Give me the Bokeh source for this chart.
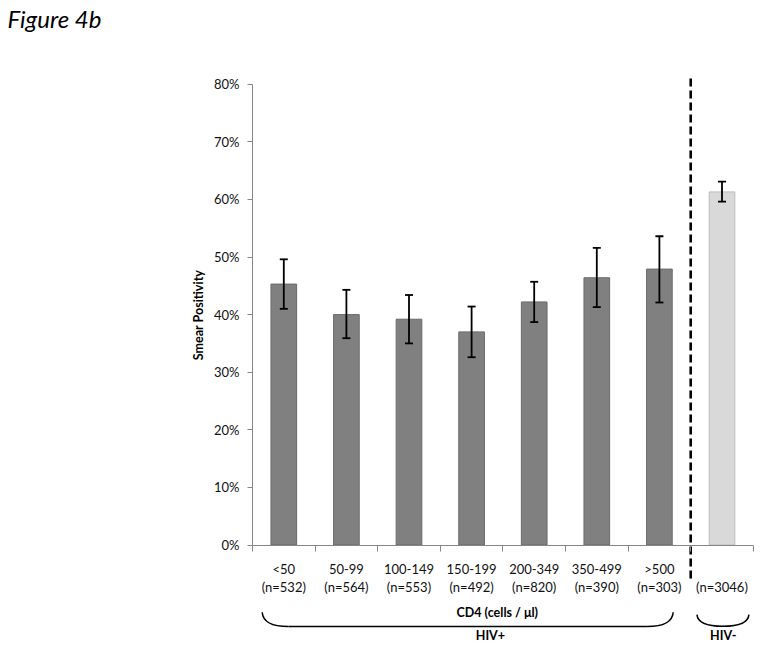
from bokeh.plotting import figure
from bokeh.models import (LinearAxis, FixedTicker, NumeralTickFormatter, Range1d,
                          ColumnDataSource, Whisker, TeeHead)
from bokeh.core.properties import value
from bokeh.embed import file_html
from bokeh.resources import INLINE

# ---------------- data ----------------
cd4_groups = ["<50", "50-99", "100-149", "150-199", "200-349", "350-499", ">500"]
cd4_n = [532, 564, 553, 492, 820, 390, 303]
hivpos_smear = [0.453, 0.400, 0.392, 0.370, 0.422, 0.464, 0.479]
hivpos_upper = [0.496, 0.443, 0.434, 0.414, 0.457, 0.516, 0.536]
hivpos_lower = [0.410, 0.359, 0.350, 0.326, 0.387, 0.413, 0.421]

hivneg_n = [3046]
hivneg_smear = [0.613]
hivneg_upper = [0.631]
hivneg_lower = [0.596]

y_ticks = [0.0, 0.1, 0.2, 0.3, 0.4, 0.5, 0.6, 0.7, 0.8]
group_labels = ["HIV+", "HIV-"]
cd4_title = "CD4 (cells / \u03bcl)"

# ---------------- layout constants ----------------
FONT = "Lato"
W, H = 756, 644
TITLE_H = 33                 # space taken by the title panel (px)
X0_PAGE, PX_PER_CAT = 252.0, 62.6
Y0_PAGE, PX_PER_UNIT = 544.5, 576.0

n_pos = len(cd4_groups)
n_all = n_pos + len(hivneg_n)

xs = (0 - X0_PAGE) / PX_PER_CAT
xe = xs + W / PX_PER_CAT
ye = (Y0_PAGE - TITLE_H) / PX_PER_UNIT
ys = (Y0_PAGE - H) / PX_PER_UNIT

pos_x = [i + 0.5 for i in range(n_pos)]
neg_x = [n_pos + i + 0.5 for i in range(len(hivneg_n))]

p = figure(width=W, height=H, x_range=Range1d(xs, xe), y_range=Range1d(ys, ye),
           x_axis_type=None, y_axis_type=None, toolbar_location=None,
           output_backend="svg", min_border=0, outline_line_color=None,
           title="Figure 4b")
p.title.text_font = FONT
p.title.text_font_style = "italic"
p.title.text_font_size = "24px"
p.title.text_color = "black"
p.title.text_line_height = 0.8
p.title.standoff = 2
p.title.align = "left"
p.title.offset = 7

# bars
src_pos = ColumnDataSource(dict(x=pos_x, top=hivpos_smear, upper=hivpos_upper, lower=hivpos_lower))
src_neg = ColumnDataSource(dict(x=neg_x, top=hivneg_smear, upper=hivneg_upper, lower=hivneg_lower))
p.vbar(x="x", top="top", bottom=0, width=0.41, source=src_pos,
       fill_color="#808080", line_color="#6a6a6a", line_width=1)
p.vbar(x="x", top="top", bottom=0, width=0.41, source=src_neg,
       fill_color="#d9d9d9", line_color="#bcbcbc", line_width=1)

for src in (src_pos, src_neg):
    w = Whisker(base="x", upper="upper", lower="lower", source=src, level="overlay",
                line_color="black", line_width=1.8,
                upper_head=TeeHead(size=8, line_width=1.8, line_color="black"),
                lower_head=TeeHead(size=8, line_width=1.8, line_color="black"))
    p.add_layout(w)

# separator between HIV+ and HIV-
p.segment(x0=n_pos, y0=-0.058, x1=n_pos, y1=0.812, line_color="black",
          line_width=2.6, line_dash="8 4")

# axes
y_axis = LinearAxis(fixed_location=0, bounds=(0, 0.8),
                    ticker=FixedTicker(ticks=y_ticks, minor_ticks=[]),
                    formatter=NumeralTickFormatter(format="0%"),
                    axis_label="Smear Positivity",
                    axis_label_text_font=FONT, axis_label_text_font_style="bold",
                    axis_label_text_font_size="12.5px", axis_label_text_color="black",
                    axis_label_standoff=5,
                    major_label_text_font=FONT, major_label_text_font_size="13px",
                    major_label_text_color="#111111", major_label_standoff=8,
                    axis_line_color="#868686", major_tick_line_color="#868686",
                    major_tick_out=5, major_tick_in=0, minor_tick_line_color=None)
p.add_layout(y_axis, "left")

x_labels = {x: f"{g}\n(n={n})" for x, g, n in zip(pos_x, cd4_groups, cd4_n)}
x_labels.update({x: f" \n(n={n})" for x, n in zip(neg_x, hivneg_n)})
x_axis = LinearAxis(fixed_location=0, bounds=(0, n_all),
                    ticker=FixedTicker(ticks=pos_x + neg_x, minor_ticks=list(range(n_all + 1))),
                    major_label_overrides=x_labels,
                    major_label_text_font=FONT, major_label_text_font_size="13px",
                    major_label_text_color="#111111", major_label_standoff=10,
                    major_label_text_line_height=1.15,
                    axis_line_color="#868686", major_tick_line_color=None,
                    minor_tick_line_color="#868686", minor_tick_out=6, minor_tick_in=0)
p.add_layout(x_axis, "below")

# group braces
def brace(x0, x1, ytip, ybot, dx):
    dx = min(dx, (x1 - x0) / 2)
    h = ytip - ybot
    p.bezier(x0=[x0, x1], y0=[ytip, ytip], x1=[x0 + dx, x1 - dx], y1=[ybot, ybot],
             cx0=[x0 + 0.01, x1 - 0.01], cy0=[ybot + 0.35 * h, ybot + 0.35 * h],
             cx1=[x0 + dx * 0.35, x1 - dx * 0.35], cy1=[ybot, ybot],
             line_color="black", line_width=1.5)
    if x1 - x0 > 2 * dx:
        p.segment(x0=x0 + dx, y0=ybot, x1=x1 - dx, y1=ybot, line_color="black", line_width=1.5)

brace(0.155, 6.72, -0.1167, -0.1415, 0.42)
brace(7.10, 7.93, -0.1208, -0.1410, 0.42)

txt = dict(text_font=value(FONT), text_font_style="bold", text_font_size="12.5px",
           text_align="center", text_baseline="middle", text_color="black")
p.text(x=[3.91], y=[-0.1167], text=[cd4_title], **txt)
p.text(x=[3.80, 7.52], y=[-0.157, -0.157], text=group_labels, **txt)

open("out.html", "w").write(file_html(p, INLINE))
